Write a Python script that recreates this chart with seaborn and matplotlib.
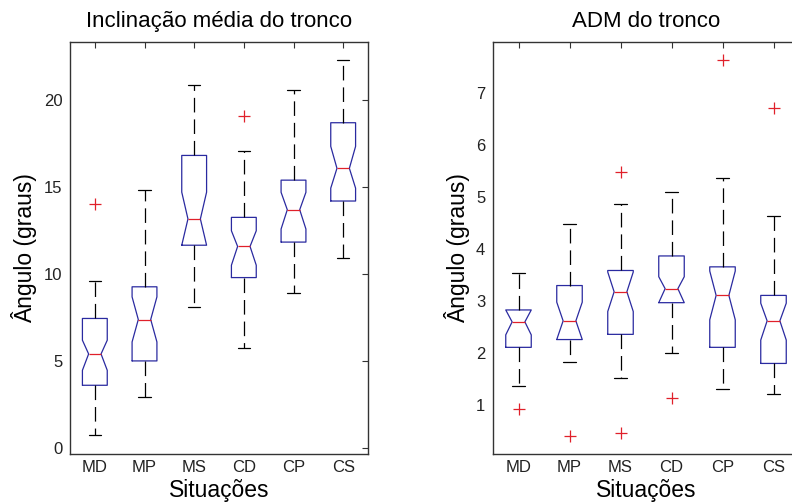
import matplotlib
matplotlib.use('Agg')
import matplotlib.pyplot as plt
import seaborn as sns

situacoes = ['MD', 'MP', 'MS', 'CD', 'CP', 'CS']

# Inclinação média do tronco (graus)
incl_whislo = [0.77, 2.96, 8.14, 5.79, 8.91, 10.96]
incl_q1 = [3.62, 5.02, 11.67, 9.81, 11.85, 14.21]
incl_cilo = [4.48, 6.11, 11.67, 10.52, 12.60, 14.95]
incl_med = [5.42, 7.40, 13.18, 11.60, 13.71, 16.09]
incl_cihi = [6.21, 8.70, 14.72, 12.50, 14.71, 17.35]
incl_q3 = [7.46, 9.28, 16.83, 13.27, 15.41, 18.71]
incl_whishi = [9.63, 14.85, 20.88, 17.11, 20.59, 22.32]
incl_fliers = [[14.04], [], [], [19.12], [], []]

# ADM do tronco (graus)
adm_whislo = [1.37, 1.82, 1.51, 2.01, 1.31, 1.21]
adm_q1 = [2.11, 2.26, 2.36, 2.97, 2.11, 1.80]
adm_cilo = [2.35, 2.26, 2.80, 2.97, 2.64, 2.25]
adm_med = [2.60, 2.62, 3.18, 3.24, 3.11, 2.62]
adm_cihi = [2.83, 2.98, 3.56, 3.47, 3.58, 2.96]
adm_q3 = [2.83, 3.30, 3.59, 3.87, 3.66, 3.11]
adm_whishi = [3.54, 4.49, 4.87, 5.10, 5.37, 4.64]
adm_fliers = [[0.92], [0.40], [5.48, 0.47], [1.14], [7.65], [6.72]]


def monta_stats(whislo, q1, cilo, med, cihi, q3, whishi, fliers):
    stats = []
    for i, nome in enumerate(situacoes):
        stats.append(dict(label=nome, whislo=whislo[i], q1=q1[i], cilo=cilo[i], med=med[i],
                          cihi=cihi[i], q3=q3[i], whishi=whishi[i], fliers=fliers[i]))
    return stats


sns.set_theme(style='white')
plt.rcParams['font.family'] = ['Liberation Sans', 'DejaVu Sans']
plt.rcParams['lines.scale_dashes'] = False

fig = plt.figure(figsize=(7.92, 5.04), dpi=100)
ax1 = fig.add_axes([70 / 792, 50 / 504, 298 / 792, 412 / 504])
ax2 = fig.add_axes([493 / 792, 50 / 504, 306 / 792, 412 / 504])

cor_caixa = '#2a2aa0'


def desenha(ax, stats, titulo, ylim, yticks, ylabel_x):
    ax.bxp(stats, positions=range(1, 7), widths=0.5, shownotches=True,
           boxprops=dict(color=cor_caixa, linewidth=0.9),
           medianprops=dict(color='#e0202a', linewidth=0.9),
           whiskerprops=dict(color='black', linewidth=0.9, linestyle=(0, (10.5, 5))),
           capprops=dict(color='black', linewidth=0.9),
           flierprops=dict(marker='+', markeredgecolor='#e0202a', markersize=8, markeredgewidth=0.9))
    ax.set_xlim(0.5, 6.5)
    ax.set_ylim(*ylim)
    ax.set_yticks(yticks)
    ax.set_xticks(range(1, 7))
    ax.set_xticklabels(situacoes)
    ax.set_title(titulo, fontsize=16, pad=10.8, color='black')
    ax.set_xlabel('Situações', fontsize=16.5, color='black')
    ax.set_ylabel('Ângulo (graus)', fontsize=16.5, color='black')
    ax.xaxis.label.set_va('baseline')
    ax.xaxis.set_label_coords(0.5, -0.1036)
    ax.yaxis.set_label_coords(ylabel_x, 0.5)
    ax.tick_params(direction='in', top=True, right=True, length=4, width=0.8,
                   color='#333333', labelsize=12, labelcolor='#222222')
    ax.tick_params(axis='x', pad=4)
    ax.tick_params(axis='y', pad=5.5)
    for s in ax.spines.values():
        s.set_color('#333333')
        s.set_linewidth(1)
        s.set_visible(True)


desenha(ax1, monta_stats(incl_whislo, incl_q1, incl_cilo, incl_med, incl_cihi, incl_q3, incl_whishi, incl_fliers),
        'Inclinação média do tronco', (-0.33, 23.35), [0, 5, 10, 15, 20], -0.111)
desenha(ax2, monta_stats(adm_whislo, adm_q1, adm_cilo, adm_med, adm_cihi, adm_q3, adm_whishi, adm_fliers),
        'ADM do tronco', (0.056, 7.99), [1, 2, 3, 4, 5, 6, 7], -0.075)

fig.savefig('out.png', dpi=100)
